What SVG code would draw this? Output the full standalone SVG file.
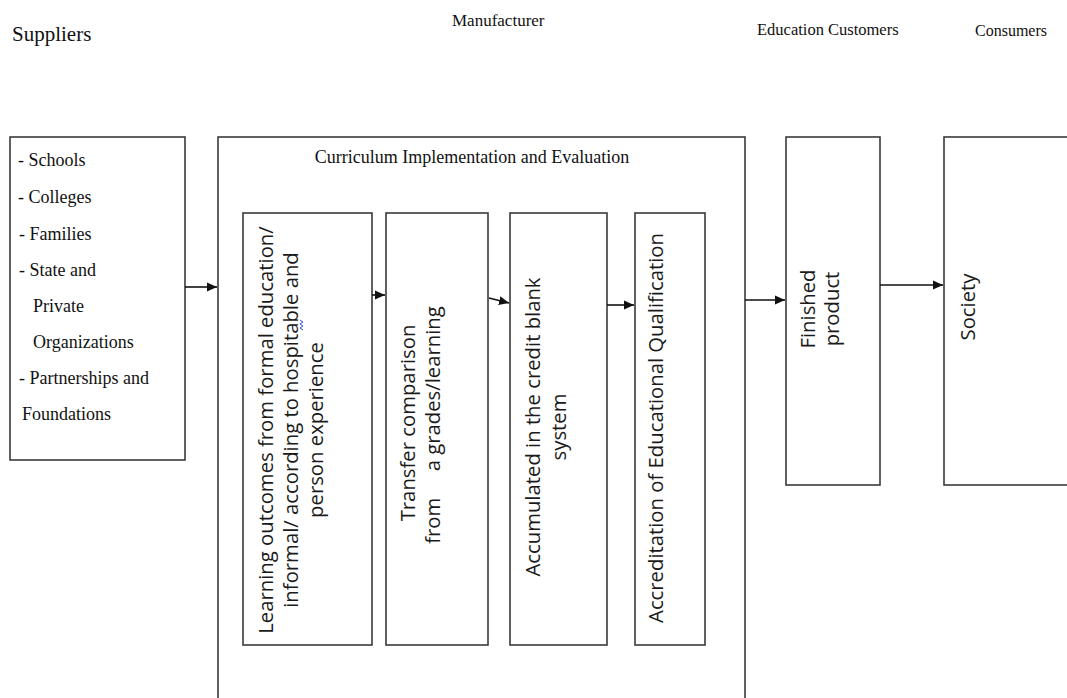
<svg xmlns="http://www.w3.org/2000/svg" width="1067" height="698" viewBox="0 0 1067 698">
  <style>
    .box { fill: #fff; stroke: #3a3a3a; stroke-width: 1.6; }
    .hdr { font-family: "Liberation Serif", "Times New Roman", serif; fill: #111; }
    .ser { font-family: "Liberation Serif", "Times New Roman", serif; font-size: 18px; fill: #111; }
    .san { font-family: "Open Sans", "Noto Sans", sans-serif; font-size: 20.3px; fill: #1a1a1a; text-anchor: middle; white-space: pre; }
    .conn { stroke: #111; stroke-width: 1.6; fill: none; marker-end: url(#arr); }
  </style>
  <defs>
    <marker id="arr" markerWidth="12" markerHeight="12" refX="10" refY="6" orient="auto" markerUnits="userSpaceOnUse">
      <path d="M0,1.5 L10,6 L0,10.5 Z" fill="#111"/>
    </marker>
  </defs>
  <rect width="1067" height="698" fill="#fff"/>

  <g id="headers">
    <text class="hdr" x="12" y="41" font-size="21">Suppliers</text>
    <text class="hdr" x="452" y="26" font-size="17">Manufacturer</text>
    <text class="hdr" x="757" y="35" font-size="16.5">Education Customers</text>
    <text class="hdr" x="975" y="36" font-size="16">Consumers</text>
  </g>

  <g id="suppliers">
    <rect class="box" x="10" y="137" width="175" height="323"/>
    <text class="ser" x="18" y="166">- Schools</text>
    <text class="ser" x="18" y="203">- Colleges</text>
    <text class="ser" x="19" y="240">- Families</text>
    <text class="ser" x="19" y="276">- State and</text>
    <text class="ser" x="33" y="312">Private</text>
    <text class="ser" x="33" y="348">Organizations</text>
    <text class="ser" x="19" y="384">- Partnerships and</text>
    <text class="ser" x="22" y="420">Foundations</text>
  </g>

  <g id="manufacturer">
    <rect class="box" x="218" y="137" width="527" height="580"/>
    <text class="ser" x="472" y="163" font-size="16" text-anchor="middle">Curriculum Implementation and Evaluation</text>
  </g>

  <g id="learning-outcomes">
    <rect class="box" x="243" y="213" width="129" height="432"/>
    <text class="san" transform="translate(273,430) rotate(-90)">Learning outcomes from formal education/</text>
    <text class="san" transform="translate(298,430) rotate(-90)">informal/ according to hospitable and</text>
    <text class="san" transform="translate(323,430) rotate(-90)">person experience</text>
    <path d="M300,320 l3,2 l-3,2 l3,2 l-3,2 l3,2" fill="none" stroke="#3b4fd6" stroke-width="1"/>
  </g>

  <g id="transfer">
    <rect class="box" x="386" y="213" width="102" height="432"/>
    <text class="san" transform="translate(415,423) rotate(-90)">Transfer comparison</text>
    <text class="san" transform="translate(440,425) rotate(-90)">from     a grades/learning</text>
  </g>

  <g id="accumulated">
    <rect class="box" x="510" y="213" width="97" height="432"/>
    <text class="san" transform="translate(540,427) rotate(-90)">Accumulated in the credit blank</text>
    <text class="san" transform="translate(566,427) rotate(-90)">system</text>
  </g>

  <g id="accreditation">
    <rect class="box" x="635" y="213" width="70" height="432"/>
    <text class="san" transform="translate(663,428) rotate(-90)">Accreditation of Educational Qualification</text>
  </g>

  <g id="finished-product">
    <rect class="box" x="786" y="137" width="94" height="348"/>
    <text class="san" transform="translate(815,309) rotate(-90)">Finished</text>
    <text class="san" transform="translate(839,309) rotate(-90)">product</text>
  </g>

  <g id="society">
    <rect class="box" x="944" y="137" width="140" height="348"/>
    <text class="san" transform="translate(975,307) rotate(-90)">Society</text>
  </g>

  <g id="connectors">
    <path class="conn" d="M185,287 H217"/>
    <path class="conn" d="M372,295 H385"/>
    <path class="conn" d="M489,298 L509,303"/>
    <path class="conn" d="M607,305 H634"/>
    <path class="conn" d="M745,300 H785"/>
    <path class="conn" d="M880,285 H943"/>
  </g>
</svg>
